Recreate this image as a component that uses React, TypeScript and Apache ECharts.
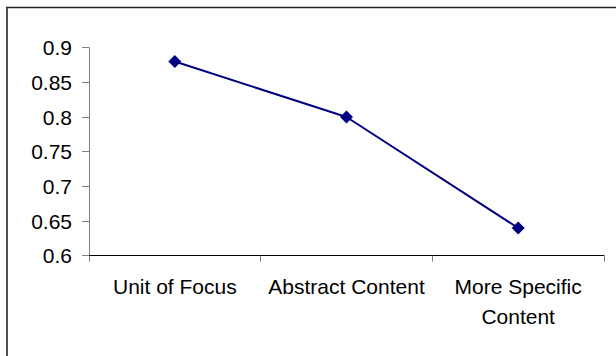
import React, { useEffect, useRef } from "react";
import * as echarts from "echarts";

const categories: string[] = ["Unit of Focus", "Abstract Content", "More Specific\nContent"];
const values: number[] = [0.88, 0.8, 0.64];
const yMin = 0.6;
const yMax = 0.9;
const yStep = 0.05;

export default function App() {
  const ref = useRef<HTMLDivElement>(null);
  useEffect(() => {
    if (!ref.current) return;
    const chart = echarts.init(ref.current, null, { renderer: "svg" });
    const font = "'Liberation Sans', Arial, sans-serif";
    chart.setOption({
      animation: false,
      backgroundColor: "#ffffff",
      textStyle: { fontFamily: font },
      grid: { left: 89, right: 12, top: 47.7, bottom: 100.3, containLabel: false },
      xAxis: {
        type: "category",
        data: categories,
        boundaryGap: true,
        axisLine: { show: true, lineStyle: { color: "#000000", width: 1 } },
        axisTick: { show: true, length: 6, lineStyle: { color: "#808080", width: 1 } },
        axisLabel: {
          color: "#000000",
          fontSize: 21,
          fontFamily: font,
          margin: 16,
          lineHeight: 30,
          align: "center",
          interval: 0,
        },
        splitLine: { show: false },
      },
      yAxis: {
        type: "value",
        min: yMin,
        max: yMax,
        interval: yStep,
        axisLine: { show: true, lineStyle: { color: "#808080", width: 1 } },
        axisTick: { show: true, length: 7, lineStyle: { color: "#808080", width: 1 } },
        axisLabel: {
          color: "#000000",
          fontSize: 21,
          fontFamily: font,
          margin: 17,
          formatter: (v: number) => String(parseFloat(v.toFixed(2))),
        },
        splitLine: { show: false },
      },
      graphic: [
        {
          type: "line",
          shape: { x1: 6, y1: 7.5, x2: 616, y2: 7.5 },
          style: { stroke: "#222222", lineWidth: 1.6 },
          silent: true,
        },
        {
          type: "line",
          shape: { x1: 7, y1: 7, x2: 7, y2: 356 },
          style: { stroke: "#222222", lineWidth: 1.6 },
          silent: true,
        },
      ],
      series: [
        {
          type: "line",
          data: values,
          symbol: "diamond",
          symbolSize: 13,
          itemStyle: { color: "#000080" },
          lineStyle: { color: "#000080", width: 2 },
          label: { show: false },
        },
      ],
    });
    return () => {
      chart.dispose();
    };
  }, []);
  return (
    <div
      ref={ref}
      style={{ position: "absolute", left: 0, top: 0, width: 616, height: 356 }}
    />
  );
}
